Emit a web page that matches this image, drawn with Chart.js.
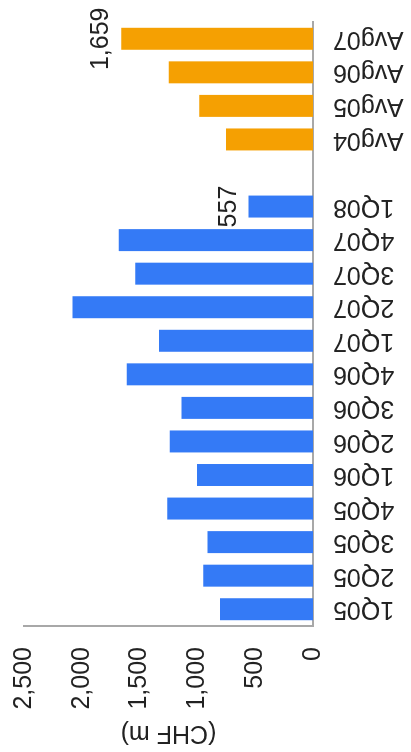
<!DOCTYPE html>
<html>
<head>
<meta charset="utf-8">
<script src="https://cdn.jsdelivr.net/npm/chart.js@4.4.1/dist/chart.umd.min.js"></script>
<style>
  html, body { margin: 0; padding: 0; background: #ffffff; overflow: hidden; }
  body { width: 411px; height: 752px; position: relative; }
  #wrap {
    position: absolute; left: 0; top: 0;
    width: 752px; height: 411px;
    transform-origin: 0 0;
    transform: translateY(752px) rotate(-90deg);
  }
</style>
</head>
<body>
<div id="wrap"><canvas id="c" width="752" height="411"></canvas></div>
<script>
// ---- data ----
const categories = ['1Q05','2Q05','3Q05','4Q05','1Q06','2Q06','3Q06','4Q06','1Q07','2Q07','3Q07','4Q07','1Q08','','Avg04','Avg05','Avg06','Avg07'];
const quarterValues = [805, 950, 912, 1260, 1003, 1240, 1138, 1611, 1333, 2080, 1538, 1680, 557, null, null, null, null, null];
const averageValues = [null, null, null, null, null, null, null, null, null, null, null, null, null, null, 753, 985, 1248, 1659];
const valueTicks = [0, 500, 1000, 1500, 2000, 2500];
const labelledCategories = ['1Q08', 'Avg07'];
const valueAxisTitle = '(CHF m)';

const FONT = "'Liberation Sans', Arial, sans-serif";
const TEXT = '#222222';

const valueLabels = {
  id: 'valueLabels',
  afterDatasetsDraw(chart) {
    const ctx = chart.ctx;
    ctx.save();
    ctx.font = '25px ' + FONT;
    ctx.fillStyle = TEXT;
    ctx.textAlign = 'center';
    ctx.textBaseline = 'alphabetic';
    chart.data.datasets.forEach((ds, di) => {
      const meta = chart.getDatasetMeta(di);
      meta.data.forEach((el, i) => {
        const v = ds.data[i];
        if (v == null || !labelledCategories.includes(categories[i])) return;
        ctx.fillText(v.toLocaleString('en-US'), el.x, el.y - 13);
      });
    });
    ctx.restore();
  }
};

new Chart(document.getElementById('c'), {
  type: 'bar',
  data: {
    labels: categories,
    datasets: [
      { label: 'Quarterly', data: quarterValues, backgroundColor: '#347af6', grouped: false,
        barPercentage: 0.655, categoryPercentage: 1 },
      { label: 'Average', data: averageValues, backgroundColor: '#f5a002', grouped: false,
        barPercentage: 0.655, categoryPercentage: 1 }
    ]
  },
  options: {
    responsive: false,
    animation: false,
    devicePixelRatio: 1,
    locale: 'en-US',
    layout: { padding: { left: 4, right: 22, top: 24, bottom: 7 } },
    plugins: { legend: { display: false }, tooltip: { enabled: false } },
    scales: {
      x: {
        grid: { display: false, drawTicks: false },
        border: { display: true, color: '#a8a8a8', width: 2 },
        afterFit(scale) { scale.height = 91; scale.paddingLeft = 0; scale.paddingRight = 0; },
        ticks: {
          autoSkip: false, minRotation: 90, maxRotation: 90, padding: 20,
          color: TEXT, font: { family: FONT, size: 25 }
        }
      },
      y: {
        min: 0, max: 2500,
        afterBuildTicks(scale) { scale.ticks = valueTicks.map(v => ({ value: v })); },
        afterFit(scale) { scale.width = 122; scale.paddingTop = 0; scale.paddingBottom = 0; },
        grid: { display: false, drawTicks: false },
        border: { display: true, color: '#a8a8a8', width: 2 },
        ticks: {
          padding: 21, color: TEXT, font: { family: FONT, size: 25 },
          callback: v => v.toLocaleString('en-US')
        },
        title: {
          display: true, text: valueAxisTitle, color: TEXT,
          font: { family: FONT, size: 25 }, padding: { top: 0, bottom: 8 }
        }
      }
    }
  },
  plugins: [valueLabels]
});
</script>
</body>
</html>
